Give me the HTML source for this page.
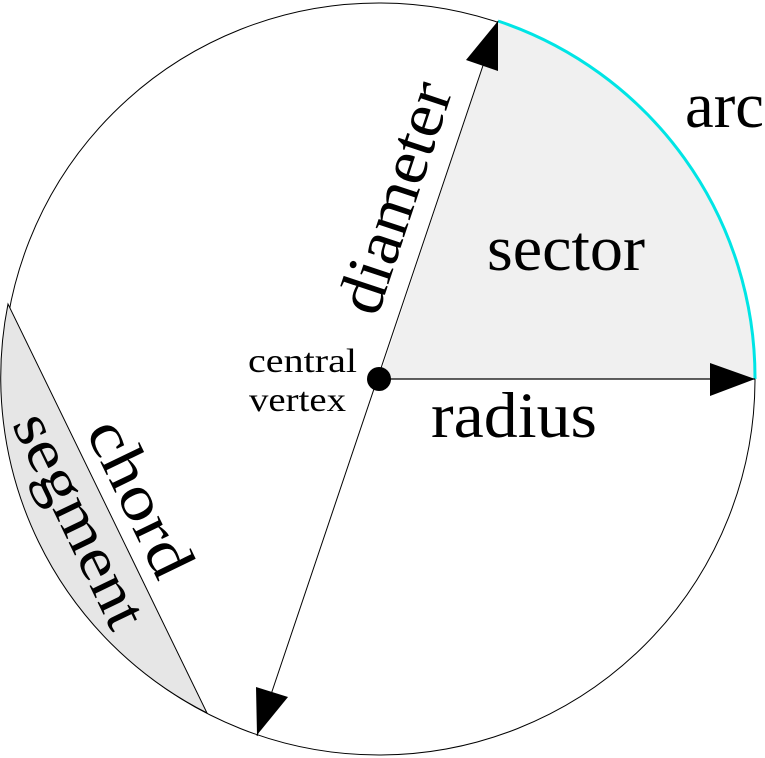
<!DOCTYPE html>
<html><head><style>html,body{margin:0;padding:0;background:#fff}svg{display:block}</style></head>
<body>
<svg width="765" height="758" viewBox="0 0 765 758" xmlns="http://www.w3.org/2000/svg" font-family="Liberation Serif, serif">
<circle cx="379" cy="379" r="376" fill="#fff" stroke="#000" stroke-width="1"/>
<path d="M8,304 A376,376 0 0 0 207,713 Z" fill="#e6e6e6" stroke="#000" stroke-width="1"/>
<path d="M379,379 L498,21 A376,376 0 0 1 755,379 Z" fill="#f0f0f0"/>
<path d="M498,21 A376,376 0 0 1 755,379" fill="none" stroke="#00e5e5" stroke-width="3"/>
<line x1="498" y1="21" x2="257" y2="736" stroke="#000" stroke-width="1"/>
<line x1="379" y1="379" x2="755" y2="379" stroke="#000" stroke-width="1.2"/>
<circle cx="379" cy="379" r="12" fill="#000"/>
<polygon points="498,21 498,71 466,60" fill="#000"/>
<polygon points="755,379 710,363 710,396" fill="#000"/>
<polygon points="257,735 256,687 288,697" fill="#000"/>
<text x="487" y="270" font-size="65" textLength="158" lengthAdjust="spacingAndGlyphs">sector</text>
<text x="685" y="127" font-size="65" textLength="79" lengthAdjust="spacingAndGlyphs">arc</text>
<text x="431" y="437" font-size="65" textLength="166" lengthAdjust="spacingAndGlyphs">radius</text>
<text x="248" y="372" font-size="34" textLength="109" lengthAdjust="spacingAndGlyphs">central</text>
<text x="249" y="411" font-size="34" textLength="97" lengthAdjust="spacingAndGlyphs">vertex</text>
<text transform="translate(396,198) rotate(-71.6)" x="-120" y="20" font-size="65" textLength="240" lengthAdjust="spacingAndGlyphs">diameter</text>
<text transform="translate(140,498) rotate(64.2)" x="-84" y="20" font-size="63" textLength="168" lengthAdjust="spacingAndGlyphs">chord</text>
<text transform="translate(80,520) rotate(64.2)" x="-116" y="20" font-size="61" textLength="232" lengthAdjust="spacingAndGlyphs">segment</text>
</svg>
</body></html>
